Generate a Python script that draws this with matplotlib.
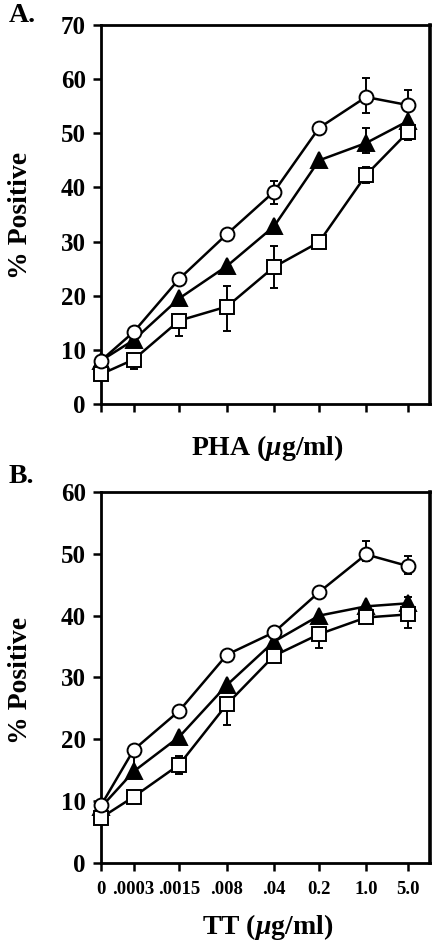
import matplotlib
matplotlib.use("Agg")
import matplotlib.pyplot as plt
import numpy as np

plt.rcParams['font.family'] = ['Liberation Serif', 'DejaVu Serif']
plt.rcParams['mathtext.fontset'] = 'custom'
plt.rcParams['mathtext.it'] = 'Liberation Serif:italic:bold'
plt.rcParams['mathtext.rm'] = 'Liberation Serif:bold'

# category positions (log-like spacing of concentrations)
x_pos = [0, 0.71, 1.70, 2.74, 3.76, 4.74, 5.76, 6.68]
tt_labels = ["0", ".0003", ".0015", ".008", ".04", "0.2", "1.0", "5.0"]

# Panel A: PHA
pha_circle = [8.0, 13.3, 23.1, 31.4, 39.2, 51.0, 56.7, 55.2]
pha_circle_lo = [0, 0, 0, 0, 2.2, 0, 3.0, 0]
pha_circle_hi = [0, 0, 0, 0, 2.0, 0, 3.6, 2.8]
pha_tri = [8.0, 11.8, 19.5, 25.5, 32.8, 45.0, 48.2, 52.3]
pha_tri_lo = [0, 0, 1.0, 1.2, 0, 0, 1.9, 0]
pha_tri_hi = [0, 2.5, 0, 0, 0, 0, 2.8, 0]
pha_sq = [5.5, 8.2, 15.4, 18.0, 25.3, 29.9, 42.3, 50.3]
pha_sq_lo = [0, 1.8, 2.8, 4.5, 3.9, 0, 1.5, 1.5]
pha_sq_hi = [0, 0, 0, 3.7, 3.9, 0, 1.5, 0]

# Panel B: TT
tt_circle = [9.3, 18.3, 24.6, 33.7, 37.3, 43.8, 49.9, 48.0]
tt_circle_lo = [0, 0, 0, 0, 0, 0, 1.0, 1.3]
tt_circle_hi = [0, 0, 0, 0, 0, 0, 2.2, 1.6]
tt_tri = [9.0, 14.8, 20.4, 28.8, 35.8, 40.0, 41.5, 42.0]
tt_tri_lo = [0, 0, 1.2, 0, 0.8, 0, 0, 0]
tt_tri_hi = [0, 3.0, 0, 0, 0, 0, 0, 1.0]
tt_sq = [7.3, 10.7, 15.9, 25.7, 33.5, 37.0, 39.7, 40.2]
tt_sq_lo = [0, 0, 1.5, 3.4, 0.9, 2.3, 0, 2.2]
tt_sq_hi = [0, 0, 1.4, 0, 0, 0, 0, 0]

fig = plt.figure(figsize=(4.4, 9.41), dpi=100)
axA = fig.add_axes([0.2295, 0.5707, 0.7477, 0.4027])
axB = fig.add_axes([0.2295, 0.0829, 0.7477, 0.3943])

def plot_series(ax, y, lo, hi, marker, face, ms, z):
    ax.errorbar(x_pos, y, yerr=[lo, hi], fmt='-', color='black', lw=1.8,
                marker=marker, markerfacecolor=face, markeredgecolor='black',
                markeredgewidth=1.4, markersize=ms, ecolor='black',
                elinewidth=1.4, capsize=3.2, capthick=1.4, zorder=z,
                clip_on=False)

def style(ax, ymax):
    ax.set_xlim(0, 7.15)
    ax.set_ylim(0, ymax)
    ax.set_yticks(np.arange(0, ymax + 1, 10))
    ax.set_xticks(x_pos)
    for s in ax.spines.values():
        s.set_linewidth(2.0)
    ax.spines['right'].set_linewidth(2.6)
    ax.tick_params(direction='out', length=6, width=1.8)
    ax.tick_params(axis='y', pad=5)
    for lab in ax.get_yticklabels():
        lab.set_fontsize(18)
        lab.set_fontweight('bold')

plot_series(axA, pha_tri, pha_tri_lo, pha_tri_hi, '^', 'black', 11, 3)
plot_series(axA, pha_sq, pha_sq_lo, pha_sq_hi, 's', 'white', 10, 4)
plot_series(axA, pha_circle, pha_circle_lo, pha_circle_hi, 'o', 'white', 10, 5)
style(axA, 70)
axA.set_xticklabels([])

plot_series(axB, tt_tri, tt_tri_lo, tt_tri_hi, '^', 'black', 11, 3)
plot_series(axB, tt_sq, tt_sq_lo, tt_sq_hi, 's', 'white', 10, 4)
plot_series(axB, tt_circle, tt_circle_lo, tt_circle_hi, 'o', 'white', 10, 5)
style(axB, 60)
axB.set_xticklabels(tt_labels, fontsize=13.5, fontweight='bold')
axB.tick_params(axis='x', pad=7)

fig.text(0.608, 1 - 448 / 941, r'PHA ($\mathit{\mu}$g/ml)', ha='center', va='center',
         fontsize=20, fontweight='bold')
fig.text(0.608, 1 - 927 / 941, r'TT ($\mathit{\mu}$g/ml)', ha='center', va='center',
         fontsize=20, fontweight='bold')
fig.text(0.047, 1 - 215 / 941, '% Positive', rotation=90, ha='center', va='center',
         fontsize=20, fontweight='bold')
fig.text(0.047, 1 - 680 / 941, '% Positive', rotation=90, ha='center', va='center',
         fontsize=20, fontweight='bold')
fig.text(0.02, 1 - 16 / 941, 'A.', ha='left', va='center', fontsize=20, fontweight='bold')
fig.text(0.02, 1 - 476 / 941, 'B.', ha='left', va='center', fontsize=20, fontweight='bold')

fig.savefig('out.png', dpi=100)
